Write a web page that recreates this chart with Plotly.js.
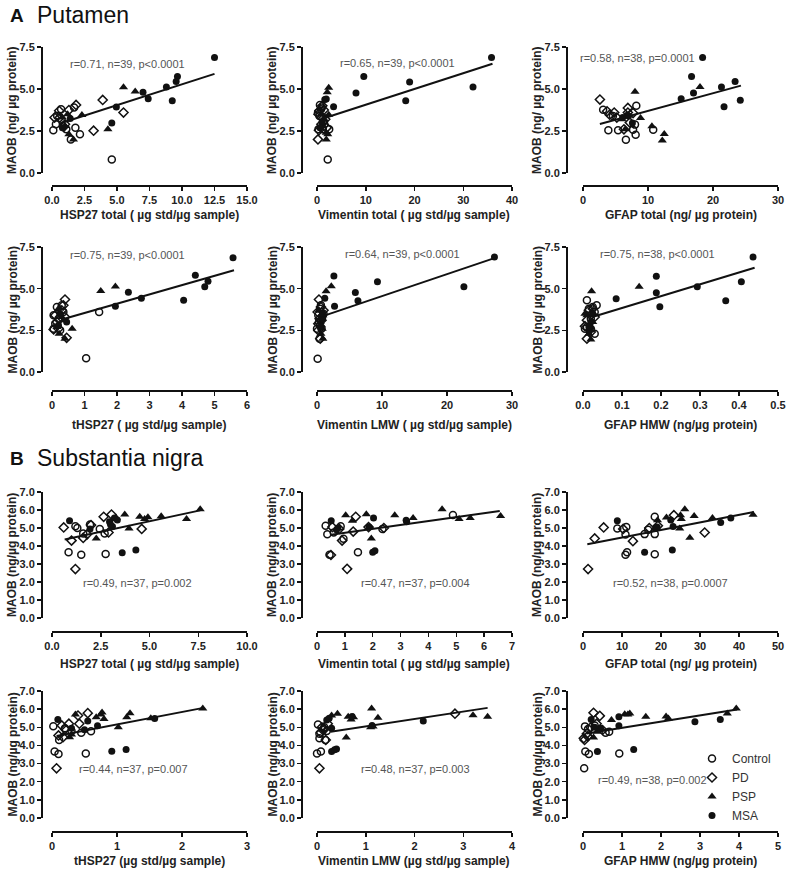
<!DOCTYPE html>
<html><head><meta charset="utf-8">
<script src="https://cdn.plot.ly/plotly-3.0.1.min.js"></script>
<style>body{margin:0;background:#fff}#chart{width:789px;height:870px}</style>
</head><body><div id="chart"></div>
<script>
// ---------------- DATA (x, y) pairs ----------------
const groupNames = ['Control', 'PD', 'PSP', 'MSA'];

// Putamen – HSP27 total
const put_hsp_ctrl = [[0.1,2.55],[0.4,3.4],[0.7,3.8],[0.3,2.9],[1.1,2.6],[1.45,2.0],[1.8,2.7],[2.15,2.3],[1.7,3.9],[4.6,0.8]];
const put_hsp_pd   = [[3.2,2.52],[3.9,4.35],[5.5,3.6],[0.55,3.7],[1.3,3.75],[1.85,4.05],[0.9,2.75],[0.2,3.3],[0.6,3.3],[1.0,2.9]];
const put_hsp_psp  = [[5.5,5.1],[6.4,4.85],[4.3,2.6],[2.3,3.45],[1.65,2.0],[1.3,2.3],[0.8,3.3],[1.2,3.5],[1.0,2.8]];
const put_hsp_msa  = [[12.5,6.88],[9.65,5.75],[9.55,5.45],[9.25,4.3],[8.8,5.12],[7.0,4.8],[7.4,4.42],[4.95,3.93],[4.6,2.98],[1.4,3.25],[0.8,2.7]];
const put_hsp_fit  = [[0.6,2.95],[12.5,5.9]];

// Putamen – Vimentin total
const put_vim_ctrl = [[2.2,0.8],[0.3,2.6],[0.5,3.4],[0.8,3.8],[1.2,2.6],[2.5,2.6],[0.6,4.05],[1.0,3.9],[0.2,3.6],[1.5,2.9]];
const put_vim_pd   = [[0.2,2.0],[0.5,3.7],[1.0,3.3],[1.4,3.75],[0.4,2.55],[0.9,2.9],[1.7,3.2],[0.3,3.5],[2.0,2.7],[1.1,4.0]];
const put_vim_psp  = [[2.4,5.08],[2.1,4.8],[2.4,3.47],[1.9,2.4],[1.9,2.0],[1.5,3.2],[1.2,2.8],[2.2,2.3],[0.9,3.5]];
const put_vim_msa  = [[35.8,6.88],[32,5.12],[19,5.42],[18.2,4.3],[9.6,5.75],[8.0,4.76],[3.4,3.95],[1.6,4.38],[1.9,4.4],[1.0,3.0],[0.6,2.7]];
const put_vim_fit  = [[1.9,3.3],[36,6.5]];

// Putamen – GFAP total
const put_gfap_ctrl = [[3.9,2.54],[5.4,2.54],[6.6,1.98],[8.1,2.28],[7.7,2.58],[10.8,2.58],[8.0,2.88],[3.1,3.77],[4.6,3.4],[8.2,4.0]];
const put_gfap_pd   = [[2.6,4.37],[3.7,3.67],[4.1,3.47],[6.9,3.6],[6.9,3.87],[7.7,3.57],[5.2,3.3],[6.3,2.6],[7.2,3.0],[4.8,3.6]];
const put_gfap_psp  = [[18.0,5.12],[8.0,4.84],[8.85,3.27],[10.6,2.78],[12.5,2.32],[12.2,1.94],[6.7,3.47],[6.0,3.2],[6.5,2.6]];
const put_gfap_msa  = [[18.4,6.88],[16.7,5.75],[23.4,5.44],[21.3,5.12],[17.0,4.76],[15.1,4.42],[24.2,4.33],[21.7,3.95],[7.6,2.98],[6.1,3.3],[7.0,3.4]];
const put_gfap_fit  = [[2.6,2.92],[24.3,5.2]];

// Putamen – tHSP27
const put_thsp_ctrl = [[1.05,0.82],[1.45,3.6],[0.05,2.6],[0.05,3.4],[0.15,3.9],[0.3,4.0],[0.25,2.5],[0.1,2.9],[0.35,3.6],[0.2,3.2]];
const put_thsp_pd   = [[0.4,4.35],[0.45,2.05],[0.35,4.0],[0.1,3.4],[0.2,2.6],[0.3,3.7],[0.15,3.0],[0.05,2.55],[0.4,3.3]];
const put_thsp_psp  = [[1.5,4.86],[1.95,5.13],[0.62,2.6],[0.4,2.0],[0.22,2.3],[0.2,3.8],[0.3,3.3],[0.15,2.7],[0.35,3.1]];
const put_thsp_msa  = [[5.57,6.86],[4.41,5.8],[4.8,5.45],[4.7,5.12],[4.05,4.3],[2.35,4.78],[2.75,4.42],[1.95,3.95],[0.45,3.0],[0.2,2.8],[0.25,3.5]];
const put_thsp_fit  = [[0.3,3.15],[5.6,6.1]];

// Putamen – Vimentin LMW
const put_vlmw_ctrl = [[0.1,0.8],[0.0,2.6],[0.2,3.4],[0.5,3.8],[0.7,2.6],[0.3,3.0],[0.6,4.0],[1.0,3.5],[0.4,2.0],[0.8,3.3]];
const put_vlmw_pd   = [[0.3,4.35],[0.1,3.6],[0.5,2.0],[0.2,2.5],[0.6,3.9],[0.4,3.2],[1.0,3.7],[0.2,2.9],[0.7,3.1]];
const put_vlmw_psp  = [[2.2,5.15],[1.4,4.85],[0.9,3.4],[0.8,2.6],[0.9,2.0],[0.6,2.3],[0.5,3.0],[0.3,3.7],[0.7,2.8]];
const put_vlmw_msa  = [[27.3,6.9],[22.6,5.12],[9.3,5.42],[5.9,4.77],[6.3,4.28],[2.6,5.76],[2.7,3.95],[1.2,4.42],[0.8,3.2],[0.5,2.7],[0.9,3.5]];
const put_vlmw_fit  = [[0.9,3.35],[27.4,6.85]];

// Putamen – GFAP HMW
const put_ghmw_ctrl = [[0.01,2.7],[0.02,2.6],[0.005,2.6],[0.03,3.6],[0.035,4.0],[0.025,3.9],[0.01,4.3],[0.03,2.3],[0.015,3.8],[0.02,3.2]];
const put_ghmw_pd   = [[0.01,2.0],[0.015,3.7],[0.02,3.4],[0.025,3.8],[0.005,2.75],[0.02,2.4],[0.03,3.3],[0.01,3.1]];
const put_ghmw_psp  = [[0.144,5.12],[0.022,4.85],[0.02,1.95],[0.015,2.3],[0.01,3.4],[0.02,2.7],[0.005,3.5],[0.025,3.0],[0.018,2.5]];
const put_ghmw_msa  = [[0.436,6.9],[0.406,5.42],[0.366,4.28],[0.293,5.12],[0.188,5.75],[0.188,4.76],[0.197,3.92],[0.085,4.4],[0.02,3.0],[0.015,2.7],[0.025,3.5]];
const put_ghmw_fit  = [[0.024,3.3],[0.44,6.25]];

// Substantia nigra – HSP27 total
const sn_hsp_ctrl = [[0.85,3.65],[1.5,3.52],[2.75,3.55],[1.2,5.1],[1.6,4.7],[1.95,5.2],[2.45,4.95],[2.7,4.7],[1.3,5.0]];
const sn_hsp_pd   = [[0.6,5.03],[1.0,4.3],[1.2,2.72],[2.0,5.16],[2.65,5.62],[3.05,5.75],[4.6,4.95],[1.6,4.45],[2.9,4.75],[1.8,4.65]];
const sn_hsp_psp  = [[7.6,6.04],[6.9,5.5],[5.6,5.65],[4.92,5.6],[4.5,5.62],[3.73,5.75],[3.95,4.97],[2.27,4.42],[3.3,5.55],[4.75,5.5]];
const sn_hsp_msa  = [[0.9,5.4],[1.95,4.95],[2.95,5.35],[3.1,5.08],[3.2,5.55],[3.35,5.45],[3.6,3.63],[4.3,3.78],[3.0,5.2]];
const sn_hsp_fit  = [[0.65,4.36],[7.6,5.98]];

// Substantia nigra – Vimentin total
const sn_vim_ctrl = [[0.31,5.12],[0.37,4.65],[0.45,3.52],[1.47,3.65],[0.85,5.1],[4.88,5.72],[0.6,4.75],[0.95,4.4],[2.35,4.95]];
const sn_vim_pd   = [[0.55,5.05],[1.08,2.73],[1.3,4.8],[1.39,5.62],[0.9,4.3],[0.5,3.5],[0.8,4.95],[1.85,5.05],[2.4,5.0]];
const sn_vim_psp  = [[4.49,6.04],[3.45,5.56],[2.79,5.71],[1.77,5.76],[1.03,5.71],[1.27,5.4],[1.95,4.42],[5.1,5.5],[5.5,5.56],[6.59,5.66]];
const sn_vim_msa  = [[0.51,5.4],[2.03,5.55],[1.87,5.05],[2.0,3.65],[2.08,3.74],[3.2,5.43],[0.75,5.0],[0.7,4.9],[3.22,5.35]];
const sn_vim_fit  = [[0.5,4.62],[6.56,5.95]];

// Substantia nigra – GFAP total
const sn_gfap_ctrl = [[8.8,4.97],[11.1,5.05],[10.9,4.64],[10.9,3.52],[11.3,3.65],[18.4,3.54],[15.8,4.66],[16.7,4.9],[18.4,5.62],[18.4,4.66]];
const sn_gfap_pd   = [[1.3,2.72],[3.0,4.42],[5.3,5.03],[10.3,4.95],[12.8,4.27],[23.3,5.71],[31.2,4.75],[19.2,5.12],[17.0,5.0]];
const sn_gfap_psp  = [[19.1,5.43],[21.4,5.58],[25.0,5.71],[25.2,5.5],[26.1,6.04],[28.5,5.67],[27.4,4.46],[24.8,4.97],[33.2,5.55],[43.6,5.73]];
const sn_gfap_msa  = [[8.8,5.4],[22.5,5.45],[23.1,5.08],[15.8,3.65],[22.9,3.78],[35.3,5.3],[37.9,5.55],[18.6,4.97],[19.0,5.05]];
const sn_gfap_fit  = [[1.1,4.1],[43.8,5.89]];

// Substantia nigra – tHSP27
const sn_thsp_ctrl = [[0.04,3.66],[0.1,3.53],[0.52,3.56],[0.02,5.06],[0.11,4.3],[0.6,4.78],[0.45,4.7],[0.2,4.95],[0.3,4.8]];
const sn_thsp_pd   = [[0.07,2.74],[0.55,5.78],[0.4,5.65],[0.26,5.2],[0.15,5.1],[0.17,4.45],[0.2,4.9],[0.42,5.2],[0.1,4.55]];
const sn_thsp_psp  = [[2.32,6.03],[1.52,5.5],[1.2,5.78],[1.15,5.55],[0.75,5.7],[0.77,5.82],[0.68,5.55],[0.36,5.7],[0.27,4.45],[0.8,5.45],[1.02,5.0],[0.3,4.6]];
const sn_thsp_msa  = [[0.09,5.43],[0.5,4.87],[0.55,5.35],[0.7,5.08],[0.92,3.68],[1.14,3.78],[1.58,5.48],[0.3,4.95]];
const sn_thsp_fit  = [[0.07,4.52],[2.33,6.07]];

// Substantia nigra – Vimentin LMW
const sn_vlmw_ctrl = [[0.02,5.15],[0.05,4.4],[0.08,3.66],[0.0,3.56],[0.15,5.0],[0.2,4.8],[0.17,4.3],[0.05,4.65]];
const sn_vlmw_pd   = [[0.05,2.74],[2.83,5.75],[0.1,5.0],[0.12,4.85],[0.18,4.3],[0.08,4.7],[0.22,5.2],[0.15,4.9]];
const sn_vlmw_psp  = [[3.2,5.67],[3.5,5.58],[1.12,6.04],[1.25,5.52],[1.1,5.0],[0.6,4.44],[0.42,5.74],[0.3,5.65],[0.64,5.58],[0.7,5.43],[0.75,5.55],[1.15,5.05]];
const sn_vlmw_msa  = [[2.18,5.35],[0.3,3.66],[0.36,3.76],[0.4,3.8],[0.2,5.4],[0.25,5.5],[0.3,4.95],[1.13,5.1],[0.72,5.6]];
const sn_vlmw_fit  = [[0.28,4.76],[3.5,6.07]];

// Substantia nigra – GFAP HMW
const sn_ghmw_ctrl = [[0.03,2.74],[0.06,3.66],[0.15,3.53],[0.93,3.56],[0.58,4.7],[0.67,4.75],[0.13,4.9],[0.05,5.05],[0.3,5.1]];
const sn_ghmw_pd   = [[0.27,5.8],[0.43,5.63],[0.04,4.3],[0.12,4.5],[0.2,5.0],[0.35,5.2],[0.5,4.85],[0.1,4.65],[0.02,4.4]];
const sn_ghmw_psp  = [[3.93,6.03],[3.7,5.76],[0.73,5.4],[1.07,5.72],[1.2,5.76],[1.61,5.58],[2.13,5.6],[2.19,5.48],[0.27,4.44],[0.36,4.75],[1.15,5.7]];
const sn_ghmw_msa  = [[0.92,5.58],[0.92,5.08],[0.21,5.43],[0.37,3.66],[1.3,3.78],[2.87,5.3],[3.52,5.43],[0.45,4.95],[0.3,5.0]];
const sn_ghmw_fit  = [[0.09,4.66],[3.95,5.98]];

// Axis labels / ticks
const xTitles = [
  'HSP27 total ( µg std/µg sample)', 'Vimentin total ( µg std/µg sample)', 'GFAP total (ng/ µg protein)',
  'tHSP27 ( µg std/µg sample)', 'Vimentin LMW ( µg std/µg sample)', 'GFAP HMW (ng/µg protein)',
  'HSP27 total ( µg std/µg sample)', 'Vimentin total ( µg std/µg sample)', 'GFAP total (ng/ µg protein)',
  'tHSP27 (µg std/µg sample)', 'Vimentin LMW (µg std/µg sample)', 'GFAP HMW (ng/µg protein)'];
const yTitles = ['MAOB (ng/ µg protein)', 'MAOB (ng/ µg protein)', 'MAOB (ng/µg protein)', 'MAOB (ng/µg protein)'];
const statTexts = [
  'r=0.71, n=39, p<0.0001', 'r=0.65, n=39, p<0.0001', 'r=0.58, n=38, p=0.0001',
  'r=0.75, n=39, p<0.0001', 'r=0.64, n=39, p<0.0001', 'r=0.75, n=38, p<0.0001',
  'r=0.49, n=37, p=0.002', 'r=0.47, n=37, p=0.004', 'r=0.52, n=38, p=0.0007',
  'r=0.44, n=37, p=0.007', 'r=0.48, n=37, p=0.003', 'r=0.49, n=38, p=0.002'];
const xMax  = [15, 40, 30, 6, 30, 0.5, 10, 7, 50, 3, 4, 5];
const xStep = [2.5, 10, 10, 1, 10, 0.1, 2.5, 1, 10, 1, 1, 1];
const xFmt  = ['.1f', 'd', 'd', 'd', 'd', '.1f', '.1f', 'd', 'd', 'd', 'd', 'd'];
const yMax  = [7.5, 7.5, 7.0, 7.0];
const yStep = [2.5, 2.5, 1.0, 1.0];

const panelData = [
  [put_hsp_ctrl, put_hsp_pd, put_hsp_psp, put_hsp_msa, put_hsp_fit],
  [put_vim_ctrl, put_vim_pd, put_vim_psp, put_vim_msa, put_vim_fit],
  [put_gfap_ctrl, put_gfap_pd, put_gfap_psp, put_gfap_msa, put_gfap_fit],
  [put_thsp_ctrl, put_thsp_pd, put_thsp_psp, put_thsp_msa, put_thsp_fit],
  [put_vlmw_ctrl, put_vlmw_pd, put_vlmw_psp, put_vlmw_msa, put_vlmw_fit],
  [put_ghmw_ctrl, put_ghmw_pd, put_ghmw_psp, put_ghmw_msa, put_ghmw_fit],
  [sn_hsp_ctrl, sn_hsp_pd, sn_hsp_psp, sn_hsp_msa, sn_hsp_fit],
  [sn_vim_ctrl, sn_vim_pd, sn_vim_psp, sn_vim_msa, sn_vim_fit],
  [sn_gfap_ctrl, sn_gfap_pd, sn_gfap_psp, sn_gfap_msa, sn_gfap_fit],
  [sn_thsp_ctrl, sn_thsp_pd, sn_thsp_psp, sn_thsp_msa, sn_thsp_fit],
  [sn_vlmw_ctrl, sn_vlmw_pd, sn_vlmw_psp, sn_vlmw_msa, sn_vlmw_fit],
  [sn_ghmw_ctrl, sn_ghmw_pd, sn_ghmw_psp, sn_ghmw_msa, sn_ghmw_fit]];

// ---------------- GEOMETRY / STYLE (pixels) ----------------
const W = 789, H = 870;
const FONT = 'Liberation Sans, Arial, sans-serif';
const INK = '#111';
const colX0 = [52, 317, 583], colX1 = [247, 512, 778], yLineX = [42, 302, 567];
const yTitleX = [12, 272, 537];
const rowTop = [47, 247, 492, 691], rowBot = [173, 372, 618, 818];
const xLineY = [186, 391, 632, 832];
const xTitleY = [215, 425, 664, 861];
const statPos = [[128,64],[397,63],[637,58],[128,255],[402,254],[657,254],[137,583],[415,583],[670,583],[133,769],[415,769],[652,780]];
const markerStyles = [
  {symbol: 'circle-open', size: 7, color: INK, line: {width: 1.5, color: INK}},
  {symbol: 'diamond-open', size: 7, color: INK, line: {width: 1.5, color: INK}},
  {symbol: 'triangle-up', size: 8, color: INK, line: {width: 0}},
  {symbol: 'circle', size: 7, color: INK, line: {width: 0}}];

const px = v => v / W, py = v => 1 - v / H;

const traces = [];
const layout = {
  width: W, height: H, margin: {l: 0, r: 0, t: 0, b: 0},
  paper_bgcolor: '#fff', plot_bgcolor: 'rgba(0,0,0,0)',
  font: {family: FONT, color: '#222'},
  showlegend: true,
  legend: {x: px(692), y: py(744), xanchor: 'left', yanchor: 'top', bgcolor: 'rgba(0,0,0,0)',
           font: {family: FONT, size: 12, color: '#333'}, tracegroupgap: 0, itemwidth: 30},
  annotations: [],
};

panelData.forEach((pd, i) => {
  const row = Math.floor(i / 3), col = i % 3;
  const sfx = i === 0 ? '' : String(i + 1);
  const xa = 'x' + sfx, ya = 'y' + sfx;
  for (let g = 0; g < 4; g++) {
    traces.push({
      type: 'scatter', mode: 'markers', xaxis: xa, yaxis: ya,
      x: pd[g].map(p => p[0]), y: pd[g].map(p => p[1]),
      marker: markerStyles[g], cliponaxis: false,
      name: groupNames[g], legendgroup: groupNames[g], showlegend: i === 11,
      hoverinfo: 'x+y'
    });
  }
  traces.push({
    type: 'scatter', mode: 'lines', xaxis: xa, yaxis: ya,
    x: pd[4].map(p => p[0]), y: pd[4].map(p => p[1]),
    line: {color: INK, width: 2}, showlegend: false, cliponaxis: false, hoverinfo: 'skip'
  });
  const common = {
    showline: true, linewidth: 2, linecolor: INK, ticks: 'outside', ticklen: 4, tickwidth: 1.5,
    tickcolor: INK, showgrid: false, zeroline: false, anchor: 'free', fixedrange: true,
    tickfont: {family: FONT, size: 11, weight: 'bold', color: '#222'}
  };
  layout['xaxis' + sfx] = Object.assign({}, common, {
    domain: [px(colX0[col]), px(colX1[col])], range: [0, xMax[i]],
    tickmode: 'linear', tick0: 0, dtick: xStep[i], tickformat: xFmt[i],
    position: py(xLineY[row])
  });
  layout['yaxis' + sfx] = Object.assign({}, common, {
    domain: [py(rowBot[row]), py(rowTop[row])], range: [0, yMax[row]],
    tickmode: 'linear', tick0: 0, dtick: yStep[row], tickformat: '.1f',
    position: px(yLineX[col])
  });
  layout.annotations.push({
    xref: 'paper', yref: 'paper', x: px((colX0[col] + colX1[col]) / 2), y: py(xTitleY[row]),
    text: xTitles[i], showarrow: false, xanchor: 'center', yanchor: 'middle',
    font: {family: FONT, size: 12, weight: 'bold', color: '#222'}
  });
  layout.annotations.push({
    xref: 'paper', yref: 'paper', x: px(yTitleX[col]), y: py((rowTop[row] + rowBot[row]) / 2),
    text: yTitles[row], showarrow: false, textangle: -90, xanchor: 'center', yanchor: 'middle',
    font: {family: FONT, size: 12, weight: 'bold', color: '#222'}
  });
  layout.annotations.push({
    xref: 'paper', yref: 'paper', x: px(statPos[i][0]), y: py(statPos[i][1]),
    text: statTexts[i], showarrow: false, xanchor: 'center', yanchor: 'middle',
    font: {family: FONT, size: 11, color: '#555'}
  });
});

// Section headings
layout.annotations.push(
  {xref: 'paper', yref: 'paper', x: px(8), y: py(15), text: '<b>A</b>', showarrow: false, xanchor: 'left', yanchor: 'middle', font: {family: FONT, size: 19, color: '#111'}},
  {xref: 'paper', yref: 'paper', x: px(35), y: py(15), text: 'Putamen', showarrow: false, xanchor: 'left', yanchor: 'middle', font: {family: FONT, size: 23, color: '#111'}},
  {xref: 'paper', yref: 'paper', x: px(8), y: py(458), text: '<b>B</b>', showarrow: false, xanchor: 'left', yanchor: 'middle', font: {family: FONT, size: 19, color: '#111'}},
  {xref: 'paper', yref: 'paper', x: px(35), y: py(458), text: 'Substantia nigra', showarrow: false, xanchor: 'left', yanchor: 'middle', font: {family: FONT, size: 23, color: '#111'}}
);

Plotly.newPlot('chart', traces, layout, {displayModeBar: false, staticPlot: true});
</script></body></html>
